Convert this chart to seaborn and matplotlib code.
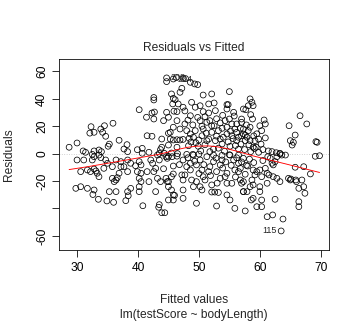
import numpy as np
import pandas as pd
import matplotlib
matplotlib.use("Agg")
import matplotlib.pyplot as plt
import seaborn as sns

# ---- data (fitted value, residual) ----
fitted_left = [28.7, 30.0, 32.3, 32.1, 32.8, 33.9, 34.5, 34.2, 35.9, 34.7, 35.3, 35.1, 36.9, 38.2, 37.7,
               40.2, 41.4, 41.5, 40.7, 39.9, 41.8,
               31.0, 31.4, 32.8, 32.5, 33.6, 34.0, 33.6, 38.3, 40.7, 43.2, 44.3, 44.6,
               30.0, 31.1, 32.5, 32.8, 33.9, 34.7, 35.0, 36.4, 37.2, 38.3, 38.8, 40.2, 40.5, 39.6, 42.1, 42.4,
               43.5, 44.8,
               30.6, 31.7, 32.2, 32.8, 33.1, 33.3, 33.6, 34.4, 35.8, 37.2, 37.7, 36.9, 38.3, 39.9, 40.5, 41.5,
               42.6, 42.9,
               35.8, 36.4, 36.6, 36.1, 40.2, 40.5, 40.2, 40.2, 41.8, 43.2, 43.7, 44.6, 44.8,
               29.8, 30.6, 31.7, 32.8, 35.3, 36.4, 38.3, 38.8, 42.9,
               32.6, 33.5, 34.9, 36.0, 38.0, 38.4, 40.8]
resid_left = [4.7, 7.8, 19.7, 15.0, 15.6, 18.0, 20.4, 15.6, 22.2, 12.7, 7.0, 5.4, 9.8, 6.6, 3.4,
              32.1, 26.6, 13.1, 3.9, 2.9, 1.0,
              2.0, 1.0, 2.0, -0.5, 2.7, 1.5, -1.0, 1.5, 0.3, -1.0, 0.3, -2.2,
              -4.6, -4.6, -4.6, -2.2, -2.9, -4.6, -7.0, -4.6, -5.8, -4.6, -7.0, -5.8, -8.2, -8.8, -4.6, -7.0,
              -4.6, -3.4,
              -13.1, -11.9, -13.1, -11.2, -12.6, -14.3, -16.8, -10.7, -9.5, -9.5, -9.5, -14.3, -13.1, -13.1, -14.3, -13.1,
              -13.1, -10.7,
              -18.0, -19.2, -17.5, -20.4, -18.0, -20.4, -24.1, -27.7, -20.4, -18.0, -20.4, -18.0, -20.4,
              -25.3, -24.1, -25.3, -26.5, -27.7, -27.7, -27.7, -25.3, -27.7,
              -29.8, -33.3, -34.5, -35.5, -34.3, -30.7, -38.0]

fitted_midleft = [42.3, 42.6, 42.6, 42.3, 44.7, 45.8, 46.3, 47.4, 47.8, 48.6, 49.3, 49.8, 47.2, 46.9, 45.5,
                  45.8, 46.1, 46.6, 45.7, 45.9, 46.4, 42.7, 44.7, 47.4, 47.7, 44.7, 42.6, 44.2, 45.0, 46.4, 47.7,
                  45.8, 45.3, 46.9, 43.9, 45.3, 46.4, 46.9, 47.4, 45.0, 46.4, 43.9, 45.8, 45.0, 43.5, 45.5,
                  46.5, 48.0,
                  45.0, 45.6, 46.4, 45.8, 45.0, 45.5, 45.8, 45.0,
                  45.5, 45.8, 46.0, 45.0, 47.2, 47.4, 47.7, 47.4, 47.4, 47.4, 48.0, 43.4, 43.9, 44.4, 43.5, 45.8,
                  44.2, 46.8, 43.7]
resid_midleft = [29.7, 41.0, 39.2, 12.7, 55.3, 54.5, 55.5, 55.0, 54.8, 52.1, 50.9, 50.4, 47.7, 44.8, 43.6,
                 40.4, 39.4, 36.3, 36.3, 31.0, 30.7, 30.4, 30.2, 33.9, 31.2, 52.6, 25.3, 24.1, 26.6, 24.1, 21.7,
                 19.3, 15.6, 18.0, 10.7, 10.7, 10.2, 10.0, 10.4, 6.3, 4.7, 4.7, 10.0, 14.9, 0.2, 0.5,
                 0.0, -0.5,
                 -2.0, -2.2, -1.8, -9.0, -20.4, -16.8, -14.8, -24.1,
                 -26.5, -30.1, -30.4, -33.8, -15.5, -19.2, -15.5, -26.5, -32.6, -4.6, -9.5, -39.1, -43.1, -43.1, -37.2, -33.8,
                 -11.0, -8.0, 3.0]

fitted_mid = [48.8, 49.4, 50.2, 50.7, 51.6, 52.5, 52.7, 51.6, 54.6, 54.8, 54.6, 55.7, 57.3, 50.7, 52.1, 55.0,
              48.6, 50.2, 51.3, 51.8, 52.1, 52.5, 54.3, 55.0, 55.4, 56.2, 57.0, 55.9, 54.6, 53.2, 52.1, 50.7,
              49.4, 48.0, 48.6, 49.1, 50.5, 51.6, 52.7, 53.5, 54.6, 55.4, 56.2, 57.3, 56.2, 57.6, 48.3, 49.9,
              51.3, 52.4, 53.8, 55.1, 56.5, 49.0, 50.0, 52.4, 53.8, 55.0, 56.5,
              48.2, 49.0, 49.8, 50.5, 51.0, 52.9, 53.5, 53.9, 54.0, 55.8, 56.8, 57.8, 48.7, 49.5, 50.3, 51.0,
              51.8, 52.9, 53.2, 54.2, 54.8, 55.6, 56.0, 56.9, 57.5, 57.9, 48.4, 50.0, 51.2, 53.8, 55.2, 56.5,
              48.6, 49.6, 50.2, 51.3, 52.4, 55.1, 55.7, 56.5, 57.3, 49.1, 48.6, 50.5, 51.6, 52.9, 53.5,
              48.8, 49.1, 49.6, 50.2, 50.5, 50.7, 51.0, 49.6, 52.1, 52.1, 52.6, 53.2, 54.3, 54.6, 54.6, 55.4,
              54.6, 55.1, 52.9, 53.5, 53.8, 55.9, 56.5, 56.8, 56.8, 57.3, 55.9, 57.3,
              48.2, 49.3, 50.8, 51.8, 52.8, 53.9, 54.4, 55.3, 56.2, 57.0, 57.8, 50.0, 51.9, 53.0, 56.0, 57.6]
resid_mid = [37.5, 33.9, 35.0, 30.7, 36.3, 37.0, 31.4, 29.7, 35.8, 35.8, 32.6, 30.2, 32.6, 42.8, 43.6, 45.3,
             27.7, 24.1, 22.9, 24.1, 20.4, 20.4, 24.1, 25.3, 21.7, 21.7, 25.3, 18.0, 19.3, 16.8, 15.6, 18.0,
             16.8, 16.8, 14.4, 12.0, 13.1, 10.7, 9.5, 10.7, 14.4, 13.1, 15.6, 14.4, 9.5, 9.5, 5.8, 5.4,
             9.5, 3.4, 7.1, 5.4, 3.4, -0.5, -0.3, -1.0, -1.2, -0.8, -1.0,
             24.5, 21.0, 26.5, 20.0, 27.0, 25.5, 22.5, 28.0, 12.0, 27.5, 18.5, 21.0, 8.5, 8.0, 2.0, 6.5,
             1.5, 12.8, 4.0, 1.8, 8.6, 11.0, 6.0, 7.0, 3.0, 12.0, 11.2, 10.0, 15.0, 18.5, 16.5, 12.0,
             -7.0, -8.2, -4.6, -2.2, -5.8, -1.0, -4.6, -7.0, -3.4, -1.0, -11.9, -11.9, -13.1, -13.1, -18.0,
             -19.2, -24.1, -20.4, -24.1, -26.5, -16.8, -19.2, -36.2, -22.8, -28.0, -28.0, -28.3, -16.8, -14.3, -21.6, -21.6,
             -30.1, -33.8, -38.2, -8.2, -4.6, -11.9, -13.1, -10.7, -19.2, -20.4, -39.9, -27.7,
             -3.0, -5.5, -8.0, -9.5, -3.2, -10.5, -6.0, -8.5, -3.0, -6.0, -8.5, -14.5, -16.0, -21.5, -17.0, -15.0]

fitted_right = [58.4, 58.7, 57.7, 58.1, 58.9, 58.8, 60.7, 60.9, 60.0, 60.3, 58.4, 58.1, 57.0, 57.3, 60.9,
                59.8, 59.2, 58.4, 58.9, 59.4, 59.1, 57.0, 57.6, 66.6, 67.7, 64.8, 65.8, 65.0, 65.3, 65.5,
                69.2, 69.4, 61.4, 62.0, 62.7, 63.3, 64.2, 69.1, 69.8,
                58.5, 59.5, 58.2, 59.0, 60.2, 59.8, 58.5, 60.5,
                62.5, 62.0, 62.2, 65.8, 67.2, 68.3, 61.2, 61.5, 62.2, 62.8, 63.3, 64.7, 65.0, 66.0, 66.4,
                67.2, 67.4, 66.4, 66.4, 62.5, 61.2, 60.0, 60.0, 58.9, 58.6, 60.3, 59.5, 60.3, 57.6, 61.2,
                62.1, 63.8, 63.5, 57.9, 57.3, 57.0, 58.9, 58.4, 58.7, 59.2, 58.9, 59.5, 60.0, 60.9, 60.3,
                61.7, 62.8, 63.3, 63.6, 61.3, 58.3, 59.0, 60.5, 58.0,
                65.1, 65.9, 66.9]
resid_right = [40.0, 37.5, 32.1, 35.0, 35.0, 25.3, 24.6, 21.7, 20.4, 16.8, 19.3, 16.8, 22.9, 18.0, 11.5,
               10.7, 9.5, 9.5, 4.7, 4.7, 3.8, 13.1, 13.6, 27.7, 21.7, 20.4, 13.6, 9.5, 6.3, 8.3,
               8.8, 8.3, 2.0, 1.5, 0.7, -0.2, -1.0, -1.9, -1.5,
               28.5, 14.5, 6.5, 13.0, 7.0, 1.0, 1.5, 3.0,
               -5.8, -7.0, -8.2, -9.9, -9.5, -14.8, -14.3, -15.5, -16.8, -18.0, -20.4, -18.0, -19.2, -20.4, -25.3,
               -24.1, -28.9, -35.0, -38.7, -33.3, -21.6, -24.1, -27.7, -32.6, -33.8, -33.8, -38.7, -38.7, -41.8, -46.0,
               -44.7, -47.7, -56.4, -27.7, -27.7, -21.6, -22.8, -24.1, -19.2, -15.5, -11.9, -13.1, -11.9, -10.7, -16.8,
               -3.4, -2.2, 0.3, -1.0, -2.2, -4.0, -6.5, -5.0, -9.0,
               -18.5, -19.2, -19.2]

x_ticks = [30, 40, 50, 60, 70]
y_ticks = [-60, -40, -20, 0, 20, 40, 60]
y_tick_labels = ["-60", "", "-20", "0", "20", "40", "60"]
id_labels = ["208", "204", "115"]
id_fitted = [44.7, 45.8, 63.5]
id_resid = [55.3, 54.5, -56.4]

df = pd.DataFrame({
    "fitted": fitted_left + fitted_midleft + fitted_mid + fitted_right,
    "resid": resid_left + resid_midleft + resid_mid + resid_right,
})


def lowess(x, y, f=2 / 3, iters=3):
    order = np.argsort(x, kind="mergesort")
    x = np.asarray(x, float)[order]
    y = np.asarray(y, float)[order]
    n = len(x)
    r = int(np.ceil(f * n))
    dist = np.abs(x[:, None] - x[None, :])
    h = np.sort(dist, axis=1)[:, r - 1]
    w = np.clip(dist / h[:, None], 0, 1)
    w = (1 - w ** 3) ** 3
    delta = np.ones(n)
    yest = np.zeros(n)
    for _ in range(iters + 1):
        for i in range(n):
            wi = delta * w[i]
            A = np.array([[wi.sum(), (wi * x).sum()], [(wi * x).sum(), (wi * x * x).sum()]])
            b = np.array([(wi * y).sum(), (wi * y * x).sum()])
            beta = np.linalg.lstsq(A, b, rcond=None)[0]
            yest[i] = beta[0] + beta[1] * x[i]
        res = y - yest
        s = np.median(np.abs(res))
        d = np.clip(res / (6 * s), -1, 1)
        delta = (1 - d ** 2) ** 2
    return x, yest


sns.set_style("ticks")
plt.rcParams["font.family"] = ["Liberation Sans", "DejaVu Sans"]

W, H = 360, 324
fig = plt.figure(figsize=(W / 72, H / 72), dpi=72)
ax = fig.add_axes([59 / W, 1 - 250 / H, (329.3 - 59) / W, (250 - 59) / H])

ax.axhline(0, color="#bebebe", lw=0.8, ls=(0, (1, 2)), zorder=1)

sns.scatterplot(data=df, x="fitted", y="resid", ax=ax, marker="o", s=34,
                fc="none", ec="black", linewidth=0.75, zorder=3)

lx, ly = lowess(df["fitted"].values, df["resid"].values)
sns.lineplot(x=lx, y=ly, ax=ax, color="red", lw=0.9, estimator=None, sort=False, zorder=4)

for lab, fx, ry in zip(id_labels, id_fitted, id_resid):
    left = fx < 49
    ax.annotate(lab, (fx, ry), xytext=(4 if left else -4, 0), textcoords="offset points",
                ha="left" if left else "right", va="center", fontsize=9, zorder=5)

ax.set_xlim(27.04, 71.4)
ax.set_ylim(-70.3, 69.1)
ax.set_xticks(x_ticks)
ax.set_yticks(y_ticks)
ax.set_yticklabels(y_tick_labels, rotation=90, va="center")
ax.tick_params(axis="both", direction="out", length=7, width=0.8, labelsize=12,
               colors="black", left=True, bottom=True)
ax.tick_params(axis="x", pad=5)
ax.tick_params(axis="y", pad=4)
for sp in ax.spines.values():
    sp.set_visible(True)
    sp.set_color("black")
    sp.set_linewidth(0.8)
ax.set_xlabel("")
ax.set_ylabel("")

fig.text(194 / W, 1 - 48 / H, "Residuals vs Fitted", ha="center", va="center", fontsize=12)
fig.text(194 / W, 1 - 300 / H, "Fitted values", ha="center", va="center", fontsize=12)
fig.text(194 / W, 1 - 315 / H, "lm(testScore ~ bodyLength)", ha="center", va="center", fontsize=12)
fig.text(9 / W, 1 - 154.5 / H, "Residuals", ha="center", va="center", rotation=90, fontsize=12)

fig.savefig("out.png", dpi=72, facecolor="white")
